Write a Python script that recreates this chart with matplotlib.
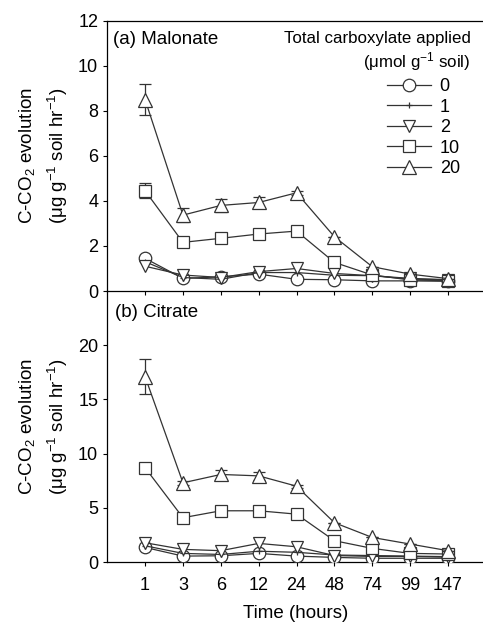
import numpy as np
import matplotlib
matplotlib.use("Agg")
import matplotlib.pyplot as plt
from matplotlib.lines import Line2D

plt.rcParams['font.family'] = ['Liberation Sans', 'DejaVu Sans']
plt.rcParams['mathtext.default'] = 'regular'
plt.rcParams['axes.unicode_minus'] = False
plt.rcParams['font.size'] = 13

time_labels = ['1', '3', '6', '12', '24', '48', '74', '99', '147']
doses = ['0', '1', '2', '10', '20']

# (a) malonate
mal_0 = [1.45, 0.56, 0.63, 0.75, 0.52, 0.50, 0.45, 0.45, 0.43]
mal_1 = [1.30, 0.60, 0.52, 0.82, 0.82, 0.70, 0.68, 0.53, 0.50]
mal_2 = [1.10, 0.71, 0.60, 0.86, 1.00, 0.78, 0.68, 0.56, 0.50]
mal_10 = [4.45, 2.16, 2.34, 2.53, 2.66, 1.27, 0.71, 0.49, 0.46]
mal_20 = [8.50, 3.37, 3.80, 3.93, 4.36, 2.41, 1.08, 0.75, 0.55]
mal_10_err = [0.33, 0, 0, 0, 0, 0, 0, 0, 0]
mal_20_err = [0.70, 0.30, 0.28, 0.25, 0.08, 0, 0, 0, 0]

# (b) citrate
cit_0 = [1.35, 0.55, 0.58, 0.80, 0.55, 0.43, 0.35, 0.35, 0.35]
cit_1 = [1.50, 0.80, 0.70, 1.00, 0.90, 0.65, 0.60, 0.55, 0.50]
cit_2 = [1.78, 1.17, 1.05, 1.72, 1.41, 0.60, 0.52, 0.52, 0.45]
cit_10 = [8.70, 4.09, 4.73, 4.73, 4.42, 1.97, 1.26, 0.80, 0.74]
cit_20 = [17.1, 7.31, 8.08, 7.95, 7.00, 3.63, 2.27, 1.66, 1.05]
cit_10_err = [0.2, 0, 0, 0, 0, 0, 0, 0, 0]
cit_20_err = [1.6, 0.2, 0.4, 0.35, 0.15, 0, 0, 0, 0]

markers = ['o', '+', 'v', 's', '^']
sizes = [9, 5, 9, 9, 10]
col = '#333333'
x = np.arange(1, len(time_labels) + 1)

fig = plt.figure(figsize=(4.83, 6.28), dpi=100)
ax2 = fig.add_axes([0.222, 0.105, 0.78, 0.4316])
ax1 = fig.add_axes([0.222, 0.5366, 0.78, 0.4304])
ax1.patch.set_visible(False)
ax2.patch.set_visible(False)


def draw(ax, series, errs):
    for i, y in enumerate(series):
        err = errs.get(i)
        ax.errorbar(x, y, yerr=err, color=col, lw=0.9, marker=markers[i],
                    ms=sizes[i], mfc='white', mec=col, mew=0.9,
                    capsize=4, elinewidth=0.9, capthick=0.9,
                    zorder=3 + i)
    ax.set_xlim(0, 9.95)
    ax.tick_params(direction='out', length=3, width=0.8, labelsize=13)
    for s in ax.spines.values():
        s.set_linewidth(0.9)


draw(ax1, [mal_0, mal_1, mal_2, mal_10, mal_20], {3: mal_10_err, 4: mal_20_err})
draw(ax2, [cit_0, cit_1, cit_2, cit_10, cit_20], {3: cit_10_err, 4: cit_20_err})

ylab = 'C-CO$_2$ evolution\n(μg g$^{-1}$ soil hr$^{-1}$)'

ax1.set_ylim(0, 12)
ax1.set_yticks([0, 2, 4, 6, 8, 10, 12])
ax1.set_xticks(x)
ax1.set_xticklabels([])
ax1.set_ylabel(ylab, fontsize=13.5, linespacing=1.5, labelpad=6)
ax1.text(0.015, 0.93, '(a) Malonate', transform=ax1.transAxes, fontsize=13.5,
         va='center', ha='left')
ax1.text(0.965, 0.935, 'Total carboxylate applied', transform=ax1.transAxes,
         fontsize=12.2, ha='right', va='center')
ax1.text(0.965, 0.85, '(μmol g$^{-1}$ soil)', transform=ax1.transAxes,
         fontsize=12.2, ha='right', va='center')
handles = [Line2D([], [], color=col, lw=0.9, marker=markers[i], ms=sizes[i],
                  mfc='white', mec=col, mew=0.9) for i in range(len(doses))]
ax1.legend(handles, doses, loc='upper right', bbox_to_anchor=(0.955, 0.815),
           frameon=False, handlelength=2.4, handletextpad=0.5,
           labelspacing=0.2, fontsize=13, borderaxespad=0)

ax2.set_ylim(0, 25)
ax2.set_yticks([0, 5, 10, 15, 20])
ax2.set_xticks(x)
ax2.set_xticklabels(time_labels)
ax2.tick_params(axis='x', pad=8)
ax2.spines['top'].set_visible(False)
ax2.spines['right'].set_visible(False)
ax2.set_ylabel(ylab, fontsize=13.5, linespacing=1.5, labelpad=6)
ax2.set_xlabel('Time (hours)', fontsize=13.5, labelpad=8)
ax2.text(0.02, 0.92, '(b) Citrate', transform=ax2.transAxes, fontsize=13.5,
         va='center', ha='left')

fig.savefig('out.png', dpi=100)
